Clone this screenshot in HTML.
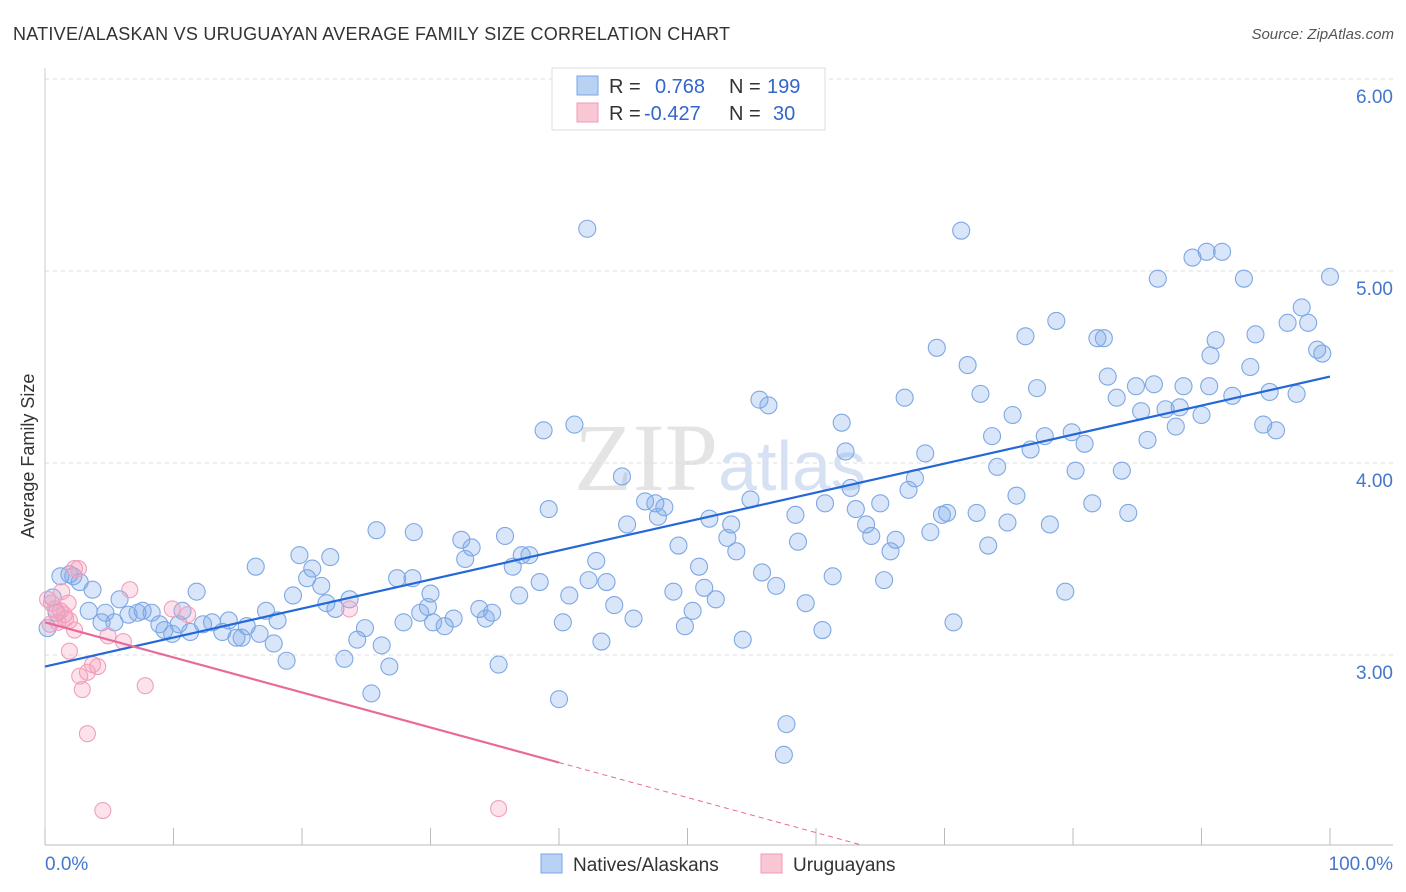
<!DOCTYPE html>
<html><head><meta charset="utf-8"><style>
body{margin:0;background:#fff;font-family:"Liberation Sans",sans-serif;}
svg{display:block}
</style></head><body>
<svg id="chart" width="1406" height="892">
<text x="13" y="40" font-size="18" fill="#333" textLength="717" lengthAdjust="spacing">NATIVE/ALASKAN VS URUGUAYAN AVERAGE FAMILY SIZE CORRELATION CHART</text>
<text x="1394" y="39" font-size="15" fill="#555" text-anchor="end" font-style="italic">Source: ZipAtlas.com</text>
<text x="720" y="490" font-size="96" fill="#e4e4e4" text-anchor="middle" font-family="Liberation Serif">ZIP<tspan fill="#d6e2f3" font-family="Liberation Sans" font-size="70">atlas</tspan></text>
<g id="grid"></g><g id="marks"></g>
<text transform="translate(34,456) rotate(-90)" font-size="18" fill="#333" text-anchor="middle">Average Family Size</text>
<text x="45" y="870" font-size="19" fill="#4477cc">0.0%</text>
<text x="1393" y="870" font-size="19" fill="#4477cc" text-anchor="end">100.0%</text>
<g>
<rect x="552" y="68" width="273" height="62" fill="#fff" stroke="#ddd"/>
<rect x="577" y="76" width="21" height="19" fill="#b8d2f4" stroke="#7aa6e4"/>
<rect x="577" y="103" width="21" height="19" fill="#f9c6d4" stroke="#f09ab4"/>
<text x="609" y="93" font-size="20" fill="#333">R = <tspan x="655" fill="#3366cc">0.768</tspan><tspan x="729" fill="#333">N = </tspan><tspan x="767" fill="#3366cc">199</tspan></text>
<text x="609" y="120" font-size="20" fill="#333">R = <tspan x="644" fill="#3366cc">-0.427</tspan><tspan x="729" fill="#333">N = </tspan><tspan x="773" fill="#3366cc">30</tspan></text>
</g>
<g>
<rect x="541" y="854" width="21" height="19" fill="#b8d2f4" stroke="#7aa6e4"/>
<text x="573" y="871" font-size="19" fill="#333">Natives/Alaskans</text>
<rect x="761" y="854" width="21" height="19" fill="#f9c6d4" stroke="#f09ab4"/>
<text x="793" y="871" font-size="19" fill="#333">Uruguayans</text>
</g>
</svg>
<script>
const yTicks=[6,5,4,3];
const yTickLabels=["6.00","5.00","4.00","3.00"];
const xTicks=[0,10,20,30,40,50,60,70,80,90,100];
const blueX=[42.2,71.3,89.3,90.4,91.6,86.6,93.3,100,97.8,96.7,98.3,78.7,76.3,81.9,82.4,99.0,99.4,91.1,90.7,94.2,69.4,71.8,93.8,82.7,86.3,84.9,88.6,77.2,72.8,66.9,83.4,90.6,92.4,95.3,97.4,85.3,87.2,88.3,90.0,55.6,56.3,75.3,62.0,41.2,38.8,73.7,77.8,79.9,80.9,85.8,88.0,94.8,95.8,62.3,68.5,76.7,44.9,74.1,80.2,83.8,67.7,62.7,46.7,47.5,48.2,47.7,54.9,75.6,67.2,39.2,51.7,58.4,60.7,63.1,65.0,69.8,70.2,72.5,74.9,81.5,84.3,78.2,53.4,53.1,45.3,49.3,53.8,58.6,63.9,64.3,66.2,65.8,68.9,73.4,25.8,28.7,32.4,33.2,35.8,32.7,19.8,22.2,37.1,37.7,36.4,42.9,50.9,55.8,61.3,65.3,16.4,20.8,20.4,21.5,27.4,28.6,38.5,42.3,43.7,48.9,51.3,52.2,56.9,79.4,11.8,17.2,19.3,21.9,23.7,22.6,30.0,29.8,29.2,27.9,30.2,31.1,31.8,33.8,34.8,34.3,36.9,40.8,44.3,45.8,40.3,50.4,49.8,59.2,60.5,70.7,3.4,4.7,5.8,6.5,7.2,7.6,8.3,5.4,4.4,8.9,9.3,9.9,10.7,10.4,11.3,12.3,13.0,13.8,14.3,14.9,15.3,15.7,16.7,18.1,17.8,18.8,23.3,24.3,24.9,26.2,26.8,25.4,35.3,40.0,43.3,54.3,57.7,57.5,1.2,1.9,2.2,2.7,3.7,0.6,0.9,0.2];
const blueY=[5.22,5.21,5.07,5.10,5.10,4.96,4.96,4.97,4.81,4.73,4.73,4.74,4.66,4.65,4.65,4.59,4.57,4.64,4.56,4.67,4.60,4.51,4.50,4.45,4.41,4.40,4.40,4.39,4.36,4.34,4.34,4.40,4.35,4.37,4.36,4.27,4.28,4.29,4.25,4.33,4.30,4.25,4.21,4.20,4.17,4.14,4.14,4.16,4.10,4.12,4.19,4.20,4.17,4.06,4.05,4.07,3.93,3.98,3.96,3.96,3.92,3.87,3.80,3.79,3.77,3.72,3.81,3.83,3.86,3.76,3.71,3.73,3.79,3.76,3.79,3.73,3.74,3.74,3.69,3.79,3.74,3.68,3.68,3.61,3.68,3.57,3.54,3.59,3.68,3.62,3.60,3.54,3.64,3.57,3.65,3.64,3.60,3.56,3.62,3.50,3.52,3.51,3.52,3.52,3.46,3.49,3.46,3.43,3.41,3.39,3.46,3.45,3.40,3.36,3.40,3.40,3.38,3.39,3.38,3.33,3.35,3.29,3.36,3.33,3.33,3.23,3.31,3.27,3.29,3.24,3.32,3.25,3.22,3.17,3.17,3.15,3.19,3.24,3.22,3.19,3.31,3.31,3.26,3.19,3.17,3.23,3.15,3.27,3.13,3.17,3.23,3.22,3.29,3.21,3.22,3.23,3.22,3.17,3.17,3.16,3.13,3.11,3.23,3.16,3.12,3.16,3.17,3.12,3.18,3.09,3.09,3.15,3.11,3.18,3.06,2.97,2.98,3.08,3.14,3.05,2.94,2.80,2.95,2.77,3.07,3.08,2.64,2.48,3.41,3.42,3.41,3.38,3.34,3.30,3.22,3.14];
const pinkX=[0.2,0.5,0.8,1.2,1.5,1.6,1.0,0.4,2.3,2.6,6.6,1.8,3.7,4.1,3.3,2.7,2.9,1.9,2.3,4.9,6.1,3.3,7.8,9.9,11.1,23.7,4.5,35.3,1.3,1.9];
const pinkY=[3.29,3.27,3.24,3.23,3.21,3.19,3.17,3.16,3.45,3.45,3.34,3.27,2.95,2.94,2.91,2.89,2.82,3.02,3.13,3.10,3.07,2.59,2.84,3.24,3.21,3.24,2.19,2.20,3.33,3.18];
const blueTrend=[2.94,4.45];
const pinkTrend=[3.17,2.44];
const pinkSolidEnd=40;

const NS="http://www.w3.org/2000/svg";
const X0=45,X1=1330,YTOP=79,UNIT=192;
const xs=v=>X0+(X1-X0)*v/100;
const ys=v=>YTOP+(6-v)*UNIT;
function mk(tag,attrs,parent){const e=document.createElementNS(NS,tag);for(const k in attrs)e.setAttribute(k,attrs[k]);parent.appendChild(e);return e;}
const grid=document.getElementById('grid'),marks=document.getElementById('marks'),svg=document.getElementById('chart');
yTicks.forEach((t,i)=>{
 const l=mk('line',{x1:45,x2:1393,y1:ys(t),y2:ys(t),stroke:'#ddd','stroke-dasharray':'4,4'},grid);
 
 
 const tx=mk('text',{x:1393,y:ys(t)+24,'font-size':19,fill:'#4477cc','text-anchor':'end'},svg);
 tx.textContent=yTickLabels[i];
 
 
});
const ax=mk('line',{x1:45,x2:1393,y1:845,y2:845,stroke:'#bbb'},grid);


const ay=mk('line',{x1:45,x2:45,y1:68,y2:845,stroke:'#ccc'},grid);


xTicks.forEach(t=>{
 const l=mk('line',{x1:xs(t),x2:xs(t),y1:828,y2:845,stroke:'#bbb'},grid);
 
 
});
blueX.forEach((x,i)=>{
 const c=mk('circle',{cx:xs(x),cy:ys(blueY[i]),r:8.5,fill:'rgba(120,165,235,0.28)',stroke:'#7ea8e4','stroke-width':1.1},marks);
 
 
});
pinkX.forEach((x,i)=>{
 const c=mk('circle',{cx:xs(x),cy:ys(pinkY[i]),r:8,fill:'rgba(245,160,190,0.3)',stroke:'#f0a0bb','stroke-width':1.1},marks);
 
 
});
const bl=mk('line',{x1:xs(0),y1:ys(blueTrend[0]),x2:xs(100),y2:ys(blueTrend[1]),stroke:'#2468d8','stroke-width':2.2},marks);


const slope=(pinkTrend[1]-pinkTrend[0])/pinkSolidEnd;
const pl=mk('line',{x1:xs(0),y1:ys(pinkTrend[0]),x2:xs(pinkSolidEnd),y2:ys(pinkTrend[1]),stroke:'#e8699a','stroke-width':2.2},marks);


const xEnd=(pinkTrend[0]-(6-(845-YTOP)/UNIT))/(-slope);
const pd=mk('line',{x1:xs(pinkSolidEnd),y1:ys(pinkTrend[1]),x2:xs(xEnd),y2:ys(pinkTrend[0]+slope*xEnd),stroke:'#e8699a','stroke-width':1,'stroke-dasharray':'5,4'},marks);


</script>
</body></html>
